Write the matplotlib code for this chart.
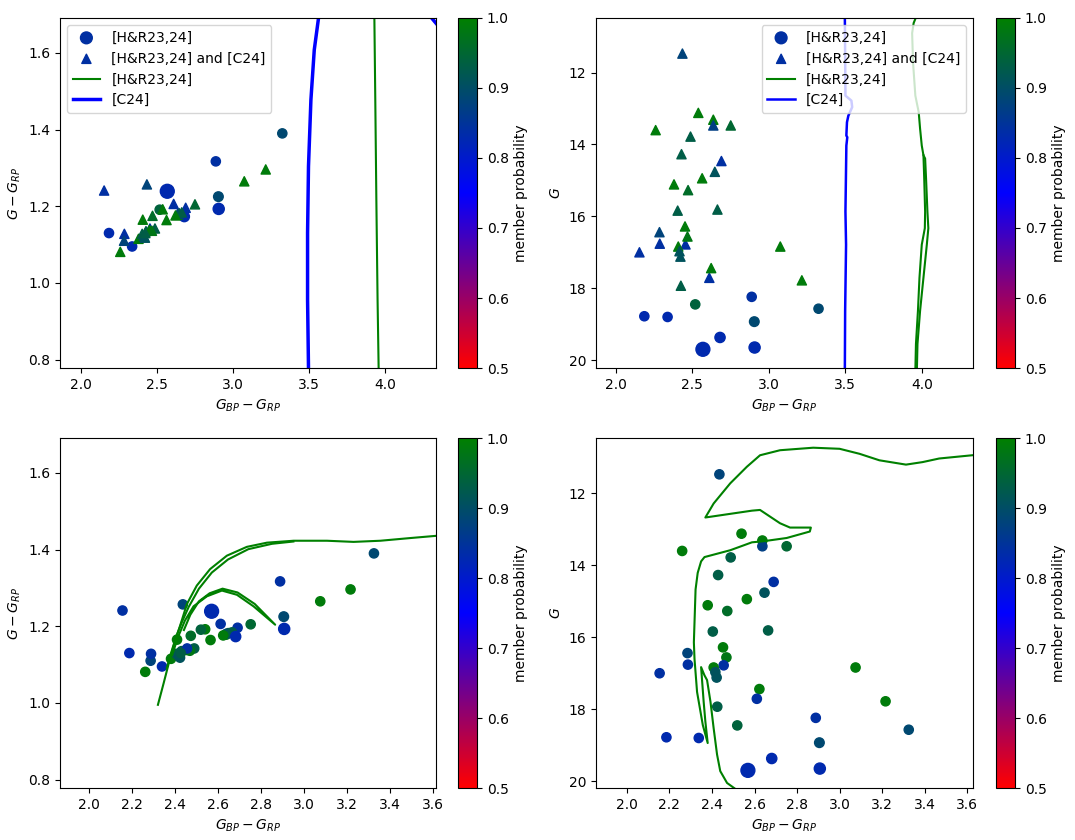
import numpy as np
import matplotlib
matplotlib.use('Agg')
import matplotlib.pyplot as plt
from matplotlib.colors import LinearSegmentedColormap, Normalize


# stars: colour, G-RP, G, membership probability, also in [C24]?, marker size
bp_rp = [2.154, 2.435, 2.539, 2.637, 2.637, 2.751, 2.260, 2.488, 2.429, 2.690,
         2.647, 2.564, 2.380, 2.472, 2.404, 2.664, 2.452, 2.468, 2.285, 2.287,
         2.455, 2.408, 2.416, 2.422, 3.075, 2.623, 3.216, 2.611, 2.425,
         2.888, 2.519, 3.325, 2.186, 2.338, 2.905, 2.681, 2.569, 2.907]
g_rp = [1.241, 1.257, 1.192, 1.178, 1.180, 1.205, 1.081, 1.142, 1.135, 1.196,
        1.182, 1.164, 1.115, 1.175, 1.128, 1.184, 1.138, 1.136, 1.110, 1.128,
        1.142, 1.165, 1.122, 1.118, 1.265, 1.176, 1.296, 1.206, 1.130,
        1.317, 1.191, 1.390, 1.130, 1.095, 1.225, 1.173, 1.239, 1.193]
g_mag = [17.00, 11.47, 13.12, 13.31, 13.47, 13.47, 13.60, 13.78, 14.27, 14.46,
         14.76, 14.94, 15.11, 15.27, 15.84, 15.81, 16.28, 16.56, 16.44, 16.76,
         16.78, 16.84, 16.97, 17.12, 16.84, 17.44, 17.78, 17.71, 17.93,
         18.24, 18.45, 18.57, 18.78, 18.80, 18.93, 19.37, 19.70, 19.65]
prob = [0.84, 0.88, 0.99, 0.99, 0.87, 0.95, 0.99, 0.93, 0.93, 0.84,
        0.91, 0.99, 0.99, 0.96, 0.93, 0.93, 0.99, 0.98, 0.88, 0.84,
        0.84, 0.99, 0.91, 0.91, 0.99, 0.99, 0.99, 0.84, 0.93,
        0.84, 0.94, 0.89, 0.83, 0.83, 0.89, 0.83, 0.83, 0.83]
in_c24 = [1] * 29 + [0] * 9
msize = [44] * 29 + [44, 44, 44, 44, 44, 48, 54, 100, 64]

# isochrone traces in the top panels
c24_top_bprp = [3.497, 3.491, 3.491, 3.497, 3.513, 3.535, 3.563, 3.75, 4.0, 4.25, 4.298, 4.34]
c24_top_grp = [0.778, 0.956, 1.130, 1.304, 1.478, 1.608, 1.691, 1.85, 1.90, 1.75, 1.695, 1.675]
hr_top_bprp = [3.958, 3.951, 3.943, 3.936, 3.930]
hr_top_grp = [0.778, 0.956, 1.217, 1.478, 1.691]

c24_cmd_top_bprp = [3.497, 3.501, 3.540, 3.545, 3.520, 3.511, 3.507, 3.513, 3.507,
                    3.501, 3.505, 3.499, 3.497]
c24_cmd_top_g = [10.40, 12.64, 12.78, 12.96, 13.20, 13.38, 13.75, 13.80, 14.03,
                 15.87, 16.79, 18.63, 20.30]
hr_cmd_top_bprp = [3.968, 3.947, 3.937, 3.943, 3.958, 3.980, 3.989, 4.000, 4.011,
                   4.022, 4.028, 4.037, 4.043, 4.033, 4.011, 3.989, 3.972, 3.968]
hr_cmd_top_g = [10.40, 10.62, 10.90, 11.72, 12.64, 13.10, 13.56, 14.03, 14.30,
                14.39, 14.94, 15.87, 16.33, 16.79, 17.71, 18.63, 19.55, 20.30]
hr_cmd_top_bprp2 = [4.011, 4.016, 4.022, 4.020, 4.000, 3.985, 3.975, 3.962, 3.958]
hr_cmd_top_g2 = [14.30, 14.94, 15.87, 16.33, 16.79, 17.71, 18.63, 19.55, 20.30]

# isochrone traces in the bottom panels
hr_cc_bprp = [2.319, 2.345, 2.368, 2.390, 2.410, 2.430, 2.454, 2.500, 2.562, 2.640,
              2.733, 2.827, 2.951, 3.106, 3.230, 3.355, 3.494, 3.640]
hr_cc_grp = [0.995, 1.050, 1.100, 1.145, 1.180, 1.215, 1.258, 1.306, 1.349, 1.384,
             1.407, 1.418, 1.423, 1.423, 1.420, 1.423, 1.430, 1.437]
hr_cc_bprp2 = [2.360, 2.380, 2.405, 2.430, 2.462, 2.510, 2.570, 2.645, 2.740, 2.850, 2.950]
hr_cc_grp2 = [1.090, 1.130, 1.175, 1.210, 1.250, 1.298, 1.340, 1.374, 1.401, 1.415, 1.421]
hr_cc_hook_bprp = [2.385, 2.415, 2.445, 2.485, 2.547, 2.617, 2.687, 2.764, 2.865,
                   2.770, 2.690, 2.620, 2.560, 2.510, 2.470, 2.440]
hr_cc_hook_grp = [1.125, 1.175, 1.215, 1.252, 1.278, 1.293, 1.282, 1.252, 1.204,
                  1.258, 1.288, 1.298, 1.286, 1.265, 1.230, 1.190]

hr_cmd_bprp = [2.518, 2.471, 2.439, 2.424, 2.408, 2.393, 2.377, 2.365, 2.349, 2.361,
               2.369, 2.380, 2.357, 2.330, 2.318, 2.315, 2.318, 2.323, 2.333, 2.349,
               2.365, 2.486, 2.588, 2.642, 2.751, 2.860, 2.865, 2.767, 2.720, 2.626,
               2.588, 2.369, 2.408, 2.486, 2.564, 2.626, 2.720, 2.876, 3.000, 3.094,
               3.187, 3.312, 3.390, 3.468, 3.640]
hr_cmd_g = [20.25, 20.05, 19.72, 19.26, 18.53, 17.79, 17.19, 17.06, 16.83, 17.79,
            18.34, 18.94, 18.44, 17.52, 16.60, 16.14, 15.59, 14.67, 14.21, 13.89,
            13.77, 13.58, 13.36, 13.33, 13.24, 13.06, 12.95, 12.95, 12.83, 12.46,
            12.48, 12.67, 12.28, 11.72, 11.26, 10.94, 10.80, 10.73, 10.76, 10.90,
            11.08, 11.20, 11.13, 11.03, 10.93]


bp_rp = np.array(bp_rp)
g_rp = np.array(g_rp)
g_mag = np.array(g_mag)
prob = np.array(prob)
msize = np.array(msize)
both = np.array(in_c24) == 1
only = ~both

cmap = LinearSegmentedColormap.from_list('rbg', ['red', 'blue', 'green'])
norm = Normalize(vmin=0.5, vmax=1.0)

W, H = 1075, 840
fig = plt.figure(figsize=(W / 100, H / 100), dpi=100)


def px_axes(x0, y0, x1, y1):
    return fig.add_axes([x0 / W, 1 - y1 / H, (x1 - x0) / W, (y1 - y0) / H])


ax1 = px_axes(60, 18, 436, 368)
cax1 = px_axes(458, 18, 477, 368)
ax2 = px_axes(596, 18, 973, 368)
cax2 = px_axes(996, 18, 1015, 368)
ax3 = px_axes(60, 438, 436, 788)
cax3 = px_axes(458, 438, 477, 788)
ax4 = px_axes(596, 438, 973, 788)
cax4 = px_axes(996, 438, 1015, 788)

# put a blue star first so the legend handles pick it up
o_idx = np.argsort(~(prob[only] < 0.86), kind='stable')
b_idx = np.argsort(~(prob[both] < 0.86), kind='stable')

# top left: colour-colour
sc = ax1.scatter(bp_rp[only][o_idx], g_rp[only][o_idx], c=prob[only][o_idx], cmap=cmap, norm=norm,
                 s=msize[only][o_idx], marker='o', label='[H&R23,24]')
ax1.scatter(bp_rp[both][b_idx], g_rp[both][b_idx], c=prob[both][b_idx], cmap=cmap, norm=norm,
            s=msize[both][b_idx], marker='^', label='[H&R23,24] and [C24]')
ax1.plot(hr_top_bprp, hr_top_grp, color='green', lw=1.5, label='[H&R23,24]')
ax1.plot(c24_top_bprp, c24_top_grp, color='blue', lw=2.5, label='[C24]')
ax1.set_xlim(1.864, 4.335)
ax1.set_ylim(0.778, 1.691)
ax1.set_xlabel(r'$G_{BP}-G_{RP}$')
ax1.set_ylabel(r'$G-G_{RP}$')
ax1.legend(loc='upper left')
fig.colorbar(sc, cax=cax1, label='member probability')

# top right: CMD
sc = ax2.scatter(bp_rp[only][o_idx], g_mag[only][o_idx], c=prob[only][o_idx], cmap=cmap, norm=norm,
                 s=msize[only][o_idx], marker='o', label='[H&R23,24]')
ax2.scatter(bp_rp[both][b_idx], g_mag[both][b_idx], c=prob[both][b_idx], cmap=cmap, norm=norm,
            s=msize[both][b_idx], marker='^', label='[H&R23,24] and [C24]')
ax2.plot(hr_cmd_top_bprp, hr_cmd_top_g, color='green', lw=1.5, label='[H&R23,24]')
ax2.plot(hr_cmd_top_bprp2, hr_cmd_top_g2, color='green', lw=1.5)
ax2.plot(c24_cmd_top_bprp, c24_cmd_top_g, color='blue', lw=1.8, label='[C24]')
ax2.set_xlim(1.87, 4.335)
ax2.set_ylim(20.22, 10.48)
ax2.set_xlabel(r'$G_{BP}-G_{RP}$')
ax2.set_ylabel(r'$G$')
ax2.legend(loc='upper right')
fig.colorbar(sc, cax=cax2, label='member probability')

# bottom left: colour-colour with the isochrone
sc = ax3.scatter(bp_rp, g_rp, c=prob, cmap=cmap, norm=norm, s=msize, marker='o')
ax3.plot(hr_cc_bprp, hr_cc_grp, color='green', lw=1.5)
ax3.plot(hr_cc_bprp2, hr_cc_grp2, color='green', lw=1.5)
ax3.plot(hr_cc_hook_bprp, hr_cc_hook_grp, color='green', lw=1.5)
ax3.set_xlim(1.863, 3.614)
ax3.set_ylim(0.778, 1.691)
ax3.set_xlabel(r'$G_{BP}-G_{RP}$')
ax3.set_ylabel(r'$G-G_{RP}$')
fig.colorbar(sc, cax=cax3, label='member probability')

# bottom right: CMD with the isochrone
sc = ax4.scatter(bp_rp, g_mag, c=prob, cmap=cmap, norm=norm, s=msize, marker='o')
ax4.plot(hr_cmd_bprp, hr_cmd_g, color='green', lw=1.5)
ax4.set_xlim(1.855, 3.627)
ax4.set_ylim(20.19, 10.46)
ax4.set_xlabel(r'$G_{BP}-G_{RP}$')
ax4.set_ylabel(r'$G$')
fig.colorbar(sc, cax=cax4, label='member probability')

fig.savefig('out.png', dpi=100)
